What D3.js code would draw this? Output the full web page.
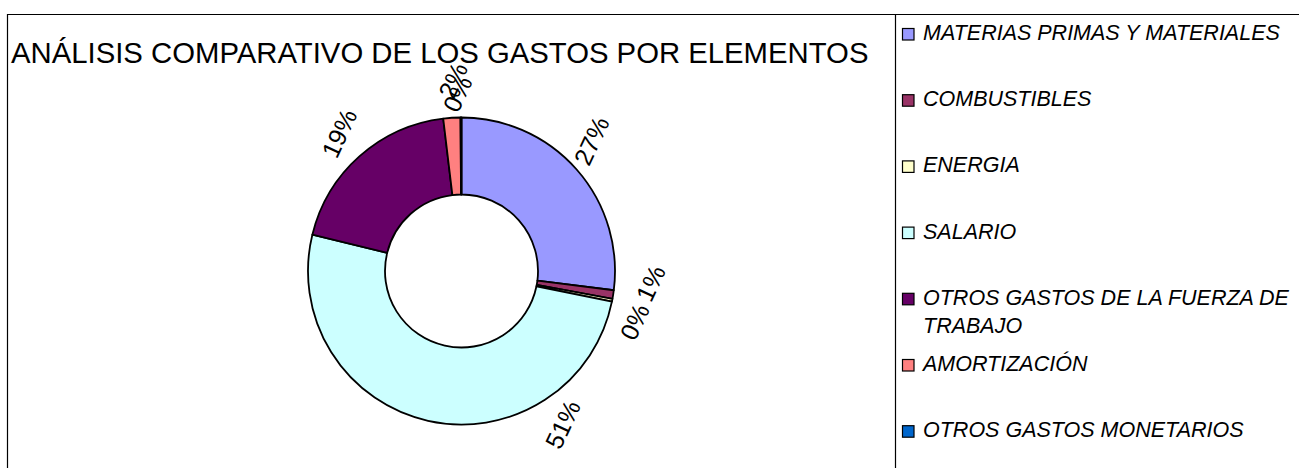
<!DOCTYPE html>
<html>
<head>
<meta charset="utf-8">
<script src="https://cdn.jsdelivr.net/npm/d3@7"></script>
<style>
    body { margin: 0; background: #fff; }
    svg { display: block; font-family: "Liberation Sans", Arial, sans-serif; }
</style>
</head>
<body>
<svg width="1299" height="468"></svg>
<script>
    // data (percent of total)
    const categories = [
        'MATERIAS PRIMAS Y MATERIALES',
        'COMBUSTIBLES',
        'ENERGIA',
        'SALARIO',
        'OTROS GASTOS DE LA FUERZA DE TRABAJO',
        'AMORTIZACIÓN',
        'OTROS GASTOS MONETARIOS'
    ];
    const values = [27.0, 0.9, 0.3, 50.6, 19.3, 1.8, 0.1];
    const colors = ['#9999FF', '#993366', '#FFFFCC', '#CCFFFF', '#660066', '#FF8080', '#0066CC'];
    const legendLines = [
        ['MATERIAS PRIMAS Y MATERIALES'],
        ['COMBUSTIBLES'],
        ['ENERGIA'],
        ['SALARIO'],
        ['OTROS GASTOS DE LA FUERZA DE', 'TRABAJO'],
        ['AMORTIZACIÓN'],
        ['OTROS GASTOS MONETARIOS']
    ];
    const title = 'ANÁLISIS COMPARATIVO DE LOS GASTOS POR ELEMENTOS';

    const svg = d3.select('svg');

    // frame
    svg.append('path')
        .attr('d', 'M7.5,468 V14.5 H1299 M895.5,14.5 V468')
        .attr('fill', 'none')
        .attr('stroke', '#000')
        .attr('stroke-width', 1.2);

    svg.append('text')
        .attr('x', 11)
        .attr('y', 63)
        .style('font-size', '29.3px')
        .text(title);

    const cx = 461.5, cy = 271, outerR = 153.5, innerR = 76.5;

    const colorScale = d3.scaleOrdinal().domain(categories).range(colors);

    const pie = d3.pie().sort(null).value(d => d.value);
    const arcs = pie(categories.map((c, i) => ({ name: c, value: values[i] })));
    const arc = d3.arc().innerRadius(innerR).outerRadius(outerR);

    const g = svg.append('g').attr('transform', `translate(${cx},${cy})`);

    g.selectAll('path.slice')
        .data(arcs)
        .enter().append('path')
        .attr('class', 'slice')
        .attr('d', arc)
        .attr('fill', d => colorScale(d.data.name))
        .attr('stroke', '#000')
        .attr('stroke-width', 1.8)
        .attr('stroke-linejoin', 'round');

    // labels: a bit outside the ring, rotated like the original
    const labelR = 184;
    const rot = -65;
    const ux = Math.cos(rot * Math.PI / 180), uy = Math.sin(rot * Math.PI / 180);
    const fmt = v => Math.round(v) + '%';

    const labels = arcs.map(d => {
        const a = d.startAngle + Math.min((d.endAngle - d.startAngle) / 2, Math.PI / 4);
        return { d, a, x: labelR * Math.sin(a), y: -labelR * Math.cos(a) };
    });
    // push apart labels that land on top of each other, along the text direction
    // (less where the text runs outward from the ring)
    for (let i = 1; i < labels.length; i++) {
        const p = labels[i - 1], q = labels[i];
        if (Math.hypot(p.x - q.x, p.y - q.y) < 20) {
            const rx = Math.sin(q.a), ry = -Math.cos(q.a);
            const s = 18 * Math.abs(ux * ry - uy * rx);
            p.x += ux * s; p.y += uy * s;
            q.x -= ux * s; q.y -= uy * s;
        }
    }

    g.selectAll('text.lbl')
        .data(labels)
        .enter().append('text')
        .attr('class', 'lbl')
        .attr('transform', l => `translate(${l.x},${l.y}) rotate(${rot})`)
        .attr('text-anchor', 'middle')
        .attr('dy', '0.35em')
        .style('font-size', '25px')
        .text(l => fmt(l.d.data.value));

    // legend
    const legendY = d3.scalePoint()
        .domain(categories)
        .range([40, 437.2]);

    const leg = svg.append('g').selectAll('g')
        .data(categories)
        .enter().append('g')
        .attr('transform', d => `translate(902,${legendY(d)})`);

    leg.append('rect')
        .attr('x', 0.5)
        .attr('y', -11.5)
        .attr('width', 11.5)
        .attr('height', 11.5)
        .attr('fill', d => colorScale(d))
        .attr('stroke', '#000')
        .attr('stroke-width', 1.2);

    leg.append('text')
        .attr('x', 21)
        .style('font-size', '21.5px')
        .style('font-style', 'italic')
        .selectAll('tspan')
        .data((d, i) => legendLines[i])
        .enter().append('tspan')
        .attr('x', 21)
        .attr('dy', (d, i) => i === 0 ? 0 : 28)
        .text(d => d);
</script>
</body>
</html>
